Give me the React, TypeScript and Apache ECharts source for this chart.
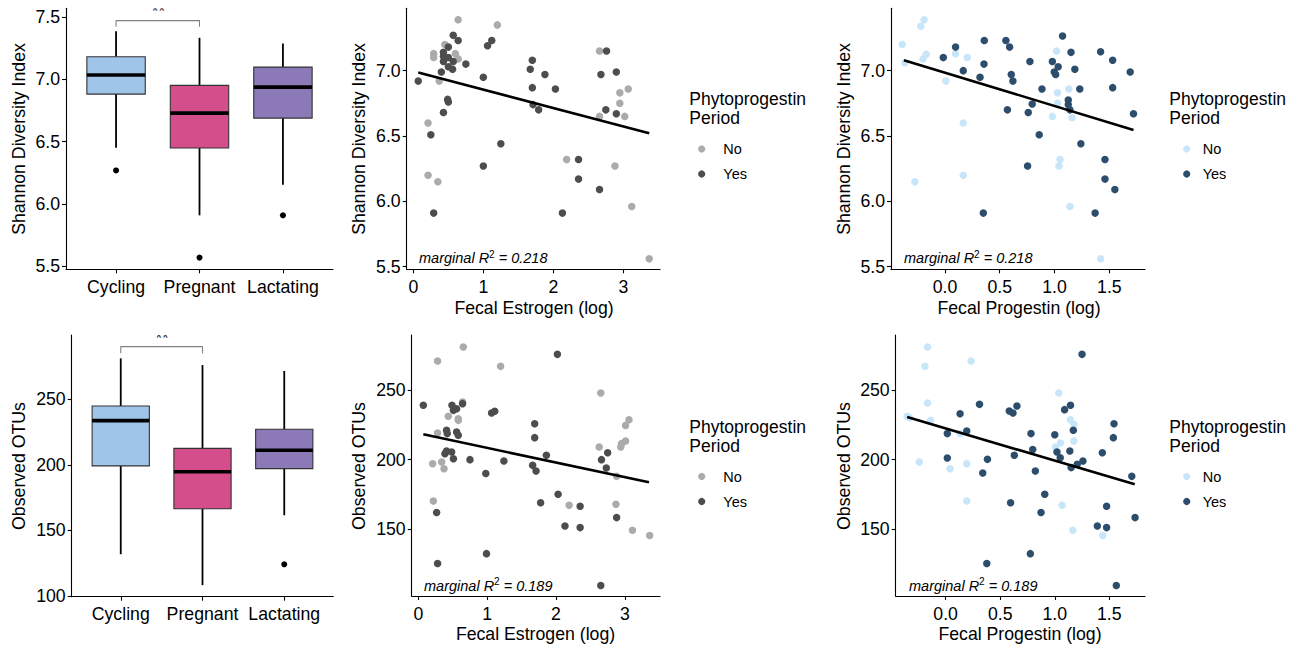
import React, { useEffect, useRef } from "react";
import * as echarts from "echarts";

// ---------- data ----------
const stages = ["Cycling", "Pregnant", "Lactating"];
const boxColors = ["#9FC5E8", "#D44E8B", "#8C79B8"];
// [lower whisker, Q1, median, Q3, upper whisker]
const shannonBox = [
  [6.451, 6.882, 7.035, 7.182, 7.388],
  [5.907, 6.448, 6.729, 6.952, 7.335],
  [6.152, 6.689, 6.938, 7.099, 7.289],
];
const shannonOutliers = [[1, 6.268], [2, 5.567], [3, 5.907]];
const otuBox = [
  [131.9, 199.2, 233.7, 244.9, 281.2],
  [108.3, 166.6, 194.8, 212.6, 276.1],
  [161.6, 197.1, 211.1, 227.1, 271.6],
];
const otuOutliers = [[3, 124.2]];
const shannonBracket = [[1, 7.424], [1, 7.473], [2, 7.473], [2, 7.424]];
const otuBracket = [[1, 285.1], [1, 290.1], [2, 290.1], [2, 285.1]];

const estrogenShannonNo = [[0.64,7.39],[1.20,7.35],[0.45,7.20],[0.29,7.13],[0.29,7.10],[0.60,7.13],[0.64,7.09],[0.37,6.92],[0.21,6.60],[0.21,6.20],[0.35,6.15],[2.19,6.32],[2.66,7.15],[2.95,6.83],[3.07,6.86],[2.95,6.75],[3.02,6.65],[2.66,6.65],[2.88,6.27],[3.12,5.96],[3.37,5.56]];
const estrogenShannonYes = [[0.07,6.92],[0.57,7.27],[0.64,7.23],[0.50,7.18],[0.43,7.14],[0.43,7.11],[0.43,7.07],[0.50,7.10],[0.57,7.07],[0.50,7.03],[0.56,7.01],[0.40,6.99],[0.75,7.05],[1.00,6.95],[1.06,7.19],[1.12,7.23],[0.49,6.78],[0.50,6.76],[0.43,6.68],[0.25,6.51],[1.25,6.44],[1.00,6.27],[0.29,5.91],[1.67,7.01],[1.70,7.08],[1.70,6.87],[1.71,6.74],[1.79,6.70],[1.88,6.97],[2.03,6.86],[2.36,6.32],[2.36,6.17],[2.13,5.91],[2.76,7.15],[2.68,6.97],[2.90,6.99],[2.75,6.70],[2.90,6.67],[2.66,6.09]];
const progestinShannonNo = [[-0.389,7.20],[-0.19,7.39],[-0.22,7.34],[-0.17,7.125],[-0.20,7.09],[-0.365,7.06],[0.097,7.13],[0.204,7.10],[0.009,6.92],[0.167,6.60],[0.167,6.20],[-0.274,6.15],[1.018,7.15],[1.027,6.83],[1.13,6.86],[1.027,6.75],[0.98,6.65],[1.16,6.64],[1.05,6.32],[1.04,6.27],[1.14,5.96],[1.42,5.56]];
const progestinShannonYes = [[-0.015,7.10],[0.097,7.18],[0.167,7.00],[0.359,7.23],[0.356,7.05],[0.32,6.95],[0.556,7.23],[0.59,7.18],[0.605,6.97],[0.62,6.92],[0.57,6.70],[0.35,5.91],[0.775,7.07],[0.796,6.745],[0.76,6.68],[0.885,6.86],[0.86,6.51],[0.754,6.27],[0.98,7.07],[1.073,7.265],[1.15,7.14],[1.033,7.03],[0.997,6.99],[1.01,6.97],[1.185,7.01],[1.23,6.86],[1.125,6.775],[1.125,6.74],[1.14,6.70],[1.24,6.44],[1.42,7.145],[1.53,7.08],[1.53,6.87],[1.69,6.99],[1.72,6.67],[1.46,6.32],[1.46,6.17],[1.55,6.09],[1.37,5.91]];
const estrogenOtuNo = [[0.653,280.9],[0.28,270.8],[1.195,267.0],[0.28,219.1],[0.435,231.1],[0.58,229.4],[0.58,228.2],[0.643,241.4],[0.208,197.1],[0.339,198.3],[0.373,193.5],[0.218,170.3],[2.65,247.8],[2.627,209.1],[3.06,228.7],[3.01,224.6],[3.01,213.4],[2.95,211.5],[2.94,209.1],[2.88,188.0],[2.87,167.9],[2.19,167.2],[3.11,149.3],[3.36,145.5]];
const estrogenOtuYes = [[0.073,239.0],[0.489,239.0],[0.643,240.2],[0.556,236.6],[0.51,235.4],[1.064,233.5],[1.11,234.7],[0.41,221.1],[0.42,218.7],[0.556,219.9],[0.58,217.5],[0.41,206.2],[0.484,205.5],[0.387,204.3],[0.51,200.7],[0.75,200.0],[0.98,190.0],[1.243,199.0],[0.266,162.0],[0.28,125.4],[0.99,132.5],[1.69,225.8],[1.69,215.8],[1.66,195.9],[1.71,191.9],[1.86,203.1],[2.02,275.6],[2.03,175.1],[1.776,169.1],[2.13,152.4],[2.35,166.5],[2.35,151.2],[2.66,200.0],[2.75,205.0],[2.73,194.0],[2.88,158.4],[2.65,109.6]];
const progestinOtuNo = [[-0.166,280.9],[-0.19,267.0],[0.233,270.8],[-0.166,240.7],[-0.138,228.2],[-0.353,231.1],[-0.33,230.1],[-0.242,198.3],[0.04,193.5],[0.193,197.1],[0.193,170.3],[0.132,218.7],[1.037,247.8],[1.144,228.7],[1.175,225.4],[1.052,212.0],[1.175,213.4],[1.006,209.1],[1.067,167.2],[1.166,149.3],[1.44,145.5]];
const progestinOtuYes = [[0.31,239.7],[0.583,234.9],[0.617,233.5],[0.653,238.5],[0.132,233.0],[0.015,218.7],[0.193,220.6],[0.015,201.2],[0.383,200.2],[0.34,190.4],[0.595,169.1],[0.377,125.4],[0.776,132.5],[0.782,218.7],[0.798,207.2],[0.629,203.1],[0.822,191.9],[0.908,175.1],[0.874,162.0],[1.0,217.9],[1.02,205.5],[1.05,201.4],[1.09,235.9],[1.144,239.0],[1.17,221.1],[1.138,206.2],[1.15,194.3],[1.206,196.7],[1.258,199.0],[1.25,275.6],[1.543,225.8],[1.537,215.8],[1.436,205.0],[1.475,166.5],[1.475,151.2],[1.39,152.4],[1.706,188.0],[1.736,158.4],[1.564,109.6]];

const estrogenShannonFit = [[0.07, 6.985], [3.37, 6.521]];
const progestinShannonFit = [[-0.374, 7.08], [1.72, 6.546]];
const estrogenOtuFit = [[0.073, 218.2], [3.35, 183.7]];
const progestinOtuFit = [[-0.353, 230.6], [1.733, 182.3]];

const shannonR2 = "0.218";
const otuR2 = "0.189";

const shannonTicks = [5.5, 6.0, 6.5, 7.0, 7.5];
const shannonScatterTicks = [5.5, 6.0, 6.5, 7.0];
const otuBoxTicks = [100, 150, 200, 250];
const otuScatterTicks = [150, 200, 250];
const estrogenTicks = [0, 1, 2, 3];
const progestinTicks = [0, 0.5, 1.0, 1.5];
const stageTicks = [1, 2, 3];

const greyNo = "#ABABAB";
const greyYes = "#4D4D4D";
const blueNo = "#C8E6FA";
const blueYes = "#2C4E6C";

// ---------- helpers ----------
const FONT = "Liberation Sans, Arial, sans-serif";

function makeAxis(
  kind: "x" | "y",
  gridIndex: number,
  min: number,
  max: number,
  ticks: number[],
  fmt: (v: number) => string
) {
  return {
    type: "value",
    gridIndex,
    min,
    max,
    position: kind === "x" ? "bottom" : "left",
    axisLine: { show: true, onZero: false, lineStyle: { color: "#000", width: 1.1 } },
    axisTick: { show: true, length: 4, customValues: ticks, lineStyle: { color: "#000", width: 1.1 } },
    axisLabel: {
      show: true,
      customValues: ticks,
      formatter: (v: number) => fmt(v),
      color: "#000",
      fontSize: 17.7,
      fontFamily: FONT,
      margin: kind === "x" ? 8.5 : 6,
    },
    splitLine: { show: false },
  };
}

const f1 = (v: number) => v.toFixed(1);
const f0 = (v: number) => String(Math.round(v));
const stageFmt = (v: number) => stages[Math.round(v) - 1] ?? "";

function boxSeries(idx: number, box: number[][]) {
  return {
    type: "custom",
    xAxisIndex: idx,
    yAxisIndex: idx,
    encode: { x: 0, y: [1, 2, 3, 4, 5] },
    data: box.map((b, i) => ({ value: [i + 1, ...b], itemStyle: { color: boxColors[i] } })),
    renderItem: (_params: any, api: any) => {
      const x = api.value(0);
      const lo = api.coord([x, api.value(1)]);
      const q1 = api.coord([x, api.value(2)]);
      const med = api.coord([x, api.value(3)]);
      const q3 = api.coord([x, api.value(4)]);
      const hi = api.coord([x, api.value(5)]);
      const half = api.size([0.7, 0])[0] / 2;
      const color = api.visual("color");
      return {
        type: "group",
        children: [
          { type: "line", shape: { x1: lo[0], y1: lo[1], x2: q1[0], y2: q1[1] }, style: { stroke: "#000", lineWidth: 1.8 } },
          { type: "line", shape: { x1: q3[0], y1: q3[1], x2: hi[0], y2: hi[1] }, style: { stroke: "#000", lineWidth: 1.8 } },
          {
            type: "rect",
            shape: { x: q1[0] - half, y: q3[1], width: half * 2, height: q1[1] - q3[1] },
            style: { fill: color, stroke: "#333", lineWidth: 1.1 },
          },
          { type: "line", shape: { x1: med[0] - half, y1: med[1], x2: med[0] + half, y2: med[1] }, style: { stroke: "#000", lineWidth: 3.6 } },
        ],
      };
    },
  };
}

function scatter(idx: number, data: number[][], color: string, size = 7.5) {
  return {
    type: "scatter",
    xAxisIndex: idx,
    yAxisIndex: idx,
    data,
    symbol: "circle",
    symbolSize: size,
    itemStyle: { color, opacity: 1 },
    silent: true,
  };
}

function line(idx: number, data: number[][], color: string, width: number) {
  return {
    type: "line",
    xAxisIndex: idx,
    yAxisIndex: idx,
    data,
    symbol: "none",
    lineStyle: { color, width },
    silent: true,
    z: 5,
  };
}

function text(x: number, y: number, s: string, size: number, extra: any = {}) {
  return {
    type: "text",
    x,
    y,
    z: 10,
    ...extra,
    style: { text: s, fontSize: size, fontFamily: FONT, fill: "#000", align: "left", verticalAlign: "middle", ...(extra.style || {}) },
  };
}

function ytitle(x: number, y: number, s: string) {
  return text(x, y, s, 17.7, { rotation: Math.PI / 2, style: { align: "center", verticalAlign: "middle" } });
}
function xtitle(x: number, y: number, s: string) {
  return text(x, y, s, 17.7, { style: { align: "center", verticalAlign: "middle" } });
}

function r2(x: number, y: number, val: string) {
  return {
    type: "text",
    x,
    y,
    z: 10,
    style: {
      text: `{a|marginal R}{s|2}{a| = ${val}}`,
      align: "left",
      verticalAlign: "middle",
      rich: {
        a: { fontSize: 14.5, fontStyle: "italic", fontFamily: FONT, fill: "#000", color: "#000", lineHeight: 18 },
        s: { fontSize: 10, fontFamily: FONT, fill: "#000", color: "#000", lineHeight: 10, verticalAlign: "top" },
      },
    },
  };
}

function legend(tx: number, sx: number, lx: number, y0: number, cNo: string, cYes: string) {
  return [
    text(tx, y0, "Phytoprogestin", 17.5),
    text(tx, y0 + 19, "Period", 17.5),
    { type: "circle", z: 10, shape: { cx: sx, cy: y0 + 50, r: 3.6 }, style: { fill: cNo } },
    { type: "circle", z: 10, shape: { cx: sx, cy: y0 + 75, r: 3.6 }, style: { fill: cYes } },
    text(lx, y0 + 50, "No", 14.5),
    text(lx, y0 + 75, "Yes", 14.5),
  ];
}

function stars(cx: number, cy: number, coverTop: number, coverBottom: number) {
  return [
    text(cx, cy, "**", 17, { style: { align: "center", verticalAlign: "middle", fill: "#333" } }),
    { type: "rect", z: 20, shape: { x: cx - 20, y: coverTop, width: 40, height: coverBottom - coverTop }, style: { fill: "#fff" } },
  ];
}

export default function App() {
  const ref = useRef<HTMLDivElement>(null);
  useEffect(() => {
    document.body.style.margin = "0";
    const chart = echarts.init(ref.current!, null, { renderer: "svg" });

    const grids = [
      { left: 66, top: 8.3, width: 267, height: 261 },
      { left: 406.7, top: 8.3, width: 253.3, height: 261 },
      { left: 891, top: 8.3, width: 254, height: 261 },
      { left: 71.7, top: 335, width: 261.6, height: 261.7 },
      { left: 411.7, top: 335, width: 248.3, height: 261 },
      { left: 895.7, top: 335, width: 249.3, height: 261 },
    ];

    const xAxes = [
      makeAxis("x", 0, 0.4, 3.6, stageTicks, stageFmt),
      makeAxis("x", 1, -0.095, 3.524, estrogenTicks, f0),
      makeAxis("x", 2, -0.492, 1.825, progestinTicks, f1),
      makeAxis("x", 3, 0.4, 3.6, stageTicks, stageFmt),
      makeAxis("x", 4, -0.096, 3.51, estrogenTicks, f0),
      makeAxis("x", 5, -0.458, 1.827, progestinTicks, f1),
    ];
    const yAxes = [
      makeAxis("y", 0, 5.473, 7.572, shannonTicks, f1),
      makeAxis("y", 1, 5.48, 7.477, shannonScatterTicks, f1),
      makeAxis("y", 2, 5.48, 7.477, shannonScatterTicks, f1),
      makeAxis("y", 3, 99.5, 299, otuBoxTicks, f0),
      makeAxis("y", 4, 102.1, 289.5, otuScatterTicks, f0),
      makeAxis("y", 5, 102.1, 289.5, otuScatterTicks, f0),
    ];

    const series: any[] = [
      boxSeries(0, shannonBox),
      scatter(0, shannonOutliers, "#000", 6),
      line(0, shannonBracket, "#808080", 1.1),
      boxSeries(3, otuBox),
      scatter(3, otuOutliers, "#000", 6),
      line(3, otuBracket, "#808080", 1.1),
      scatter(1, estrogenShannonNo, greyNo),
      scatter(1, estrogenShannonYes, greyYes),
      line(1, estrogenShannonFit, "#000", 2.6),
      scatter(2, progestinShannonNo, blueNo),
      scatter(2, progestinShannonYes, blueYes),
      line(2, progestinShannonFit, "#000", 2.6),
      scatter(4, estrogenOtuNo, greyNo),
      scatter(4, estrogenOtuYes, greyYes),
      line(4, estrogenOtuFit, "#000", 2.6),
      scatter(5, progestinOtuNo, blueNo),
      scatter(5, progestinOtuYes, blueYes),
      line(5, progestinOtuFit, "#000", 2.6),
    ];

    const graphic: any[] = [
      ytitle(19, 139, "Shannon Diversity Index"),
      ytitle(19, 466, "Observed OTUs"),
      ytitle(358.8, 139, "Shannon Diversity Index"),
      ytitle(843.8, 139, "Shannon Diversity Index"),
      ytitle(358.8, 466, "Observed OTUs"),
      ytitle(843.8, 466, "Observed OTUs"),
      xtitle(534, 307.5, "Fecal Estrogen (log)"),
      xtitle(1019, 307.5, "Fecal Progestin (log)"),
      xtitle(535.5, 633.5, "Fecal Estrogen (log)"),
      xtitle(1020, 633.5, "Fecal Progestin (log)"),
      r2(419, 258.3, shannonR2),
      r2(904, 258.3, shannonR2),
      r2(424, 585.7, otuR2),
      r2(909, 585.7, otuR2),
      ...legend(689.3, 701.7, 723.3, 99, greyNo, greyYes),
      ...legend(1169.3, 1186.7, 1202.7, 99, blueNo, blueYes),
      ...legend(689.3, 701.7, 723.3, 426.5, greyNo, greyYes),
      ...legend(1169.3, 1186.7, 1202.7, 426.5, blueNo, blueYes),
      ...stars(158.4, 11.8, 0, 8.3),
      ...stars(162, 338.5, 318, 335),
    ];

    chart.setOption({
      animation: false,
      backgroundColor: "#fff",
      textStyle: { fontFamily: FONT },
      grid: grids.map((g) => ({ ...g, containLabel: false })),
      xAxis: xAxes,
      yAxis: yAxes,
      series,
      graphic,
    });
    return () => chart.dispose();
  }, []);
  return <div ref={ref} style={{ width: 1309, height: 646, background: "#fff" }} />;
}
